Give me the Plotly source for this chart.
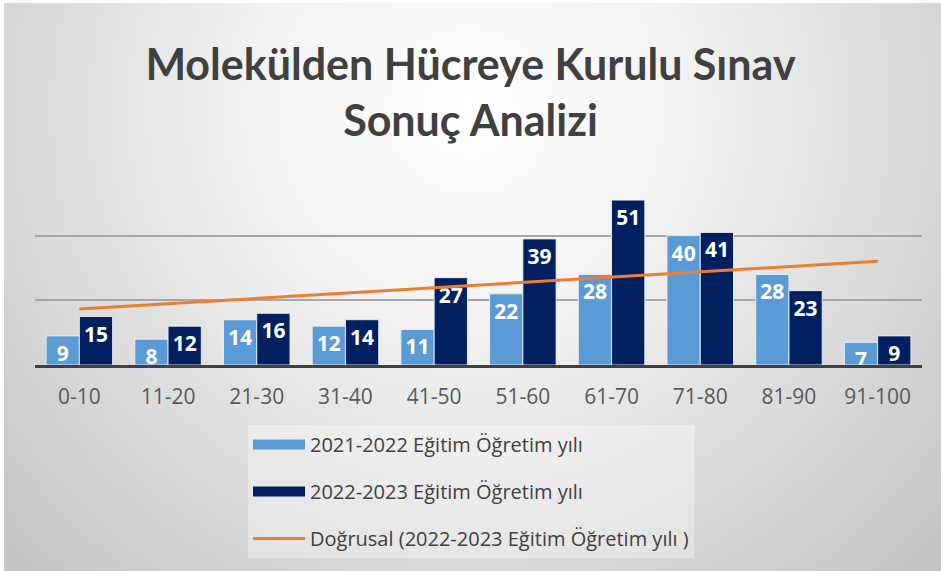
import base64
import numpy as np
import plotly.graph_objects as go

categories = ["0-10", "11-20", "21-30", "31-40", "41-50", "51-60", "61-70", "71-80", "81-90", "91-100"]
series_2021_2022 = [9, 8, 14, 12, 11, 22, 28, 40, 28, 7]
series_2022_2023 = [15, 12, 16, 14, 27, 39, 51, 41, 23, 9]
name_a = "2021-2022 Eğitim Öğretim yılı"
name_b = "2022-2023 Eğitim Öğretim yılı"
name_trend = "Doğrusal (2022-2023 Eğitim Öğretim yılı )"
title_text = "Molekülden Hücreye Kurulu Sınav<br>Sonuç Analizi"

color_a = "#5b9bd5"
color_b = "#002060"
color_trend = "#ed7d31"

W, H = 941, 571
ML, MR, MT, MB = 35, 19, 171, 206
PW, PH = W - ML - MR, H - MT - MB

# linear trend of the 2022-2023 series (the "Doğrusal" trendline)
xi = np.arange(1, len(series_2022_2023) + 1)
slope, intercept = np.polyfit(xi, series_2022_2023, 1)
trend = slope * xi + intercept

svg = f'''<svg xmlns="http://www.w3.org/2000/svg" width="{W}" height="{H}" viewBox="0 0 {W} {H}">
<defs><radialGradient id="g" gradientUnits="userSpaceOnUse" cx="470" cy="110" r="640">
<stop offset="0" stop-color="#ffffff"/><stop offset="0.35" stop-color="#f2f2f2"/><stop offset="1" stop-color="#c4c4c4"/>
</radialGradient></defs>
<rect x="0" y="0" width="{W}" height="{H}" fill="#ffffff"/>
<rect x="4" y="3" width="{W-4}" height="{H-3}" fill="url(#g)"/>
</svg>'''
bg_uri = "data:image/svg+xml;base64," + base64.b64encode(svg.encode()).decode()

label_font = dict(family="Open Sans", size=21, color="white", weight="bold")
outline = dict(color="rgba(235,240,250,0.9)", width=1)

fig = go.Figure()
fig.add_trace(go.Bar(
    x=categories, y=series_2021_2022, name=name_a, legendgroup="a", showlegend=False,
    marker=dict(color=color_a, line=outline),
    text=series_2021_2022, textposition="inside", insidetextanchor="end", textangle=0,
    constraintext="none", cliponaxis=False, textfont=label_font,
))
fig.add_trace(go.Bar(
    x=categories, y=series_2022_2023, name=name_b, legendgroup="b", showlegend=False,
    marker=dict(color=color_b, line=outline),
    text=series_2022_2023, textposition="inside", insidetextanchor="end", textangle=0,
    constraintext="none", cliponaxis=False, textfont=label_font,
))
fig.add_trace(go.Scatter(
    x=categories, y=trend, name=name_trend, legendgroup="c", mode="lines",
    line=dict(color=color_trend, width=3), hoverinfo="skip", showlegend=False,
))
# legend entries (wide rectangular swatches like the reference)
for nm, col, grp, w in [(name_a, color_a, "a", 10), (name_b, color_b, "b", 10), (name_trend, color_trend, "c", 3)]:
    fig.add_trace(go.Scatter(x=[None], y=[None], mode="lines", name=nm, legendgroup=grp,
                             line=dict(color=col, width=w), showlegend=True, hoverinfo="skip"))

fig.update_layout(
    width=W, height=H,
    margin=dict(l=ML, r=MR, t=MT, b=MB),
    paper_bgcolor="white", plot_bgcolor="rgba(0,0,0,0)",
    barmode="group", bargap=0.25, bargroupgap=0.0,
    images=[dict(source=bg_uri, xref="paper", yref="paper",
                 x=-ML / PW, y=1 + MT / PH, sizex=W / PW, sizey=H / PH,
                 xanchor="left", yanchor="top", sizing="stretch", layer="below")],
    title=dict(text=title_text, x=0.5, xanchor="center", y=1 - 80 / H, yanchor="middle",
               font=dict(family="Lato", size=43, color="#404040", weight="bold")),
    font=dict(family="Open Sans", color="#595959"),
    xaxis=dict(showline=True, linecolor="#404040", linewidth=3, ticks="",
               tickfont=dict(size=21, color="#595959"), ticklabelstandoff=11,
               showgrid=False),
    yaxis=dict(range=[0, 60], dtick=20, showticklabels=False, showgrid=True,
               gridcolor="#a6a6a6", gridwidth=1.5, zeroline=False),
    legend=dict(orientation="v", x=(248 - ML) / PW, xanchor="left",
                y=-(425 - (MT + PH)) / PH, yanchor="top",
                bgcolor="rgba(255,255,255,0.35)",
                font=dict(family="Open Sans", size=20, color="#404040"),
                tracegroupgap=18, itemwidth=52, traceorder="grouped"),
    showlegend=True,
)

fig.write_html("out.html", config={"displayModeBar": False},
               post_script="document.body.style.margin='0';")
